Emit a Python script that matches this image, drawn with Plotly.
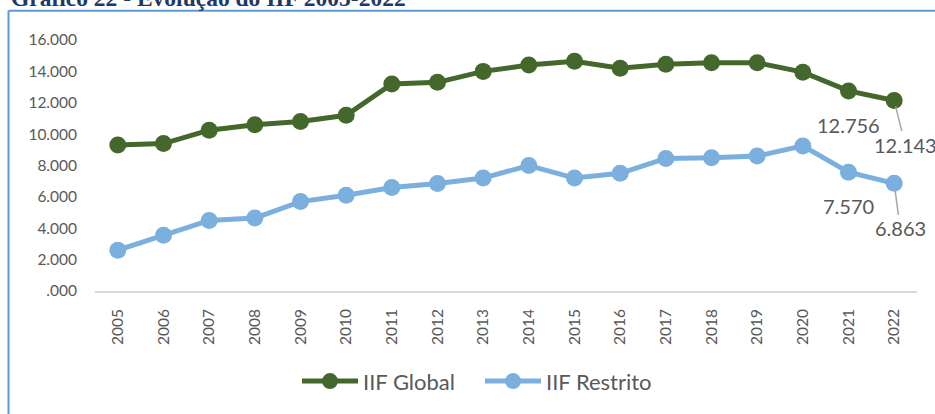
import plotly.graph_objects as go

years = ["2005", "2006", "2007", "2008", "2009", "2010", "2011", "2012", "2013",
         "2014", "2015", "2016", "2017", "2018", "2019", "2020", "2021", "2022"]
iif_global = [9300, 9400, 10250, 10600, 10800, 11200, 13200, 13300, 14000,
              14400, 14650, 14200, 14450, 14550, 14550, 13950, 12756, 12143]
iif_restrito = [2600, 3550, 4500, 4650, 5700, 6100, 6600, 6850, 7200,
                8000, 7200, 7500, 8450, 8500, 8600, 9250, 7570, 6863]
y_tickvals = [0, 2000, 4000, 6000, 8000, 10000, 12000, 14000, 16000]
y_ticktext = [".000", "2.000", "4.000", "6.000", "8.000", "10.000", "12.000", "14.000", "16.000"]
title_text = "Gráfico 22 - Evolução do IIF 2005-2022"

GREEN = "#44682B"
BLUE = "#7BAFDE"
GREY = "#595959"
FONT = "Lato, 'Open Sans', sans-serif"


def fmt(v):
    return f"{v:,.0f}".replace(",", ".")


W, H = 935, 414
L, R, T, B = 95, 18, 40, 121
pw, ph = W - L - R, H - T - B


def px(x):
    return (x - L) / pw


def py(y):
    return (H - B - y) / ph


fig = go.Figure()
fig.add_trace(go.Scatter(x=years, y=iif_global, name="IIF Global", mode="lines+markers",
                         line=dict(color=GREEN, width=5),
                         marker=dict(color=GREEN, size=17)))
fig.add_trace(go.Scatter(x=years, y=iif_restrito, name="IIF Restrito", mode="lines+markers",
                         line=dict(color=BLUE, width=5),
                         marker=dict(color=BLUE, size=17)))

i21, i22 = len(years) - 2, len(years) - 1
lab_font = dict(size=20, color=GREY, family=FONT)
annots = [
    dict(x=i21, y=iif_global[i21], text=fmt(iif_global[i21]), showarrow=False,
         yshift=-34, font=lab_font),
    dict(x=i21, y=iif_restrito[i21], text=fmt(iif_restrito[i21]), showarrow=False,
         yshift=-34, font=lab_font),
    dict(x=i22, y=iif_global[i22], text=fmt(iif_global[i22]), showarrow=True,
         arrowhead=0, arrowwidth=1.5, arrowcolor="#A6A6A6", ax=11, ay=44, standoff=6,
         font=lab_font),
    dict(x=i22, y=iif_restrito[i22], text=fmt(iif_restrito[i22]), showarrow=True,
         arrowhead=0, arrowwidth=1.5, arrowcolor="#A6A6A6", ax=6, ay=45, standoff=6,
         font=lab_font),
    dict(xref="paper", yref="paper", x=px(9), y=py(13), xanchor="left", yanchor="bottom",
         text="<b>" + title_text + "</b>", showarrow=False,
         font=dict(size=23.5, color="#1F3864", family="'Liberation Serif', 'Times New Roman', serif")),
]

shapes = [
    dict(type="line", xref="paper", yref="paper", x0=px(8.5), x1=px(8.5), y0=py(10.5), y1=py(430),
         line=dict(color="#5B9BD5", width=2)),
    dict(type="line", xref="paper", yref="paper", x0=px(8.5), x1=px(950), y0=py(10.5), y1=py(10.5),
         line=dict(color="#5B9BD5", width=2)),
]

fig.update_layout(
    width=W, height=H,
    margin=dict(l=L, r=R, t=T, b=B),
    paper_bgcolor="white", plot_bgcolor="white",
    font=dict(family=FONT, color=GREY),
    showlegend=True,
    legend=dict(orientation="h", x=px(480), y=py(384), xanchor="center", yanchor="middle",
                font=dict(size=22, color=GREY, family=FONT), itemwidth=56, entrywidth=112),
    annotations=annots,
    shapes=shapes,
    xaxis=dict(type="category", range=[-0.5, 17.5], tickangle=-90, showgrid=False,
               showline=True, linecolor="#D9D9D9", linewidth=1.5, ticks="",
               tickfont=dict(size=15.5, color=GREY, family=FONT), ticklabelstandoff=10,
               zeroline=False),
    yaxis=dict(range=[0, 16000], tickvals=y_tickvals, ticktext=y_ticktext, showgrid=False,
               showline=False, zeroline=False, ticks="",
               tickfont=dict(size=15.5, color=GREY, family=FONT), ticklabelstandoff=17),
)

fig.write_html("out.html", config={"displayModeBar": False},
               post_script="document.body.style.margin='0';document.body.style.overflow='hidden';")
